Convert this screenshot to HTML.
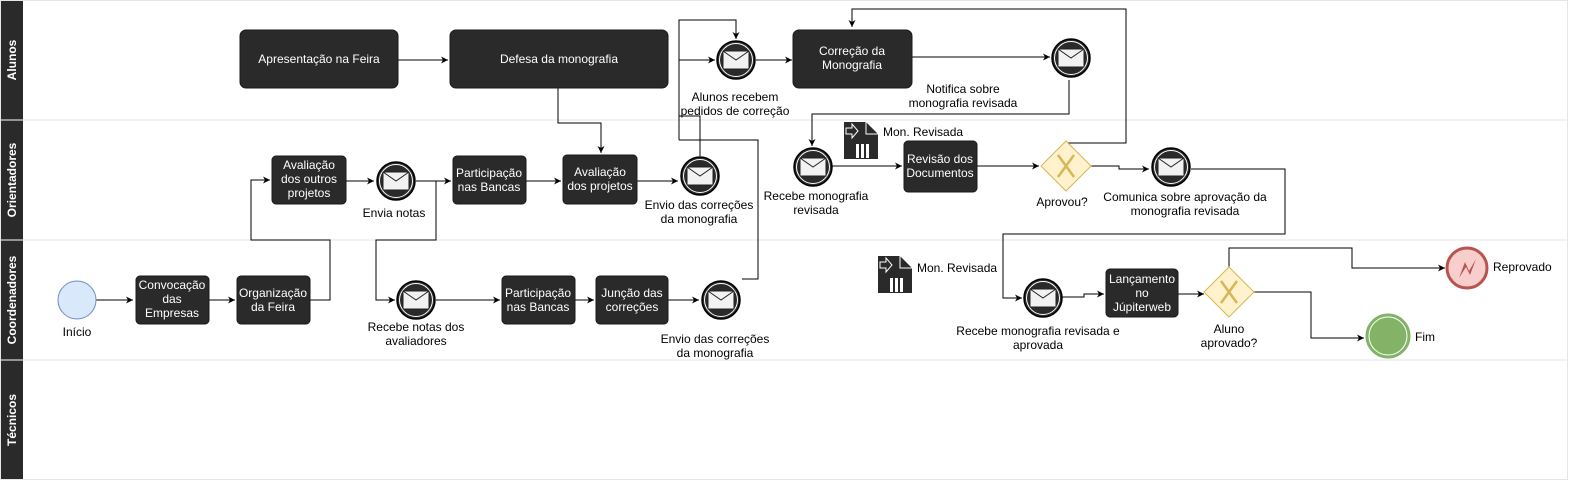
<!DOCTYPE html>
<html><head><meta charset="utf-8"><style>
html,body{margin:0;padding:0;background:#fff;}
svg{display:block;font-family:"Liberation Sans",sans-serif;}
.t{fill:#fff;font-size:12px;text-anchor:middle;}
.l{fill:#000;font-size:12px;text-anchor:middle;}
.e{fill:none;stroke:#000;stroke-width:1;}
</style></head><body>
<svg width="1571" height="482" viewBox="0 0 1571 482" xmlns="http://www.w3.org/2000/svg">
<defs>
<marker id="a" markerWidth="8" markerHeight="8" refX="7" refY="4" orient="auto" markerUnits="userSpaceOnUse"><path d="M0,0.5 L7,4 L0,7.5 L2,4 Z" fill="#000"/></marker>
<g id="msg">
<circle r="19" fill="#2a2a2a" stroke="#000" stroke-width="1.5"/>
<circle r="16.5" fill="none" stroke="#fff" stroke-width="1"/>
<rect x="-13" y="-9" width="26" height="18" fill="#f2f2f2" stroke="#222"/>
<path d="M-13,-9 L0,0 L13,-9" fill="none" stroke="#222"/>
</g>
<g id="doc">
<path d="M0,0 H22 L34,12 V37 H0 Z" fill="#2a2a2a"/>
<path d="M22,0 V12 H34" fill="none" stroke="#fff" stroke-width="1"/>
<path d="M2,6 H8 V2 L14,9 L8,16 V12 H2 Z" fill="none" stroke="#fff" stroke-width="1"/>
<rect x="12" y="22" width="3" height="14" fill="#fff"/><rect x="17" y="22" width="3" height="14" fill="#fff"/><rect x="22" y="22" width="3" height="14" fill="#fff"/>
</g>
<g id="gw">
<path d="M0,-25 L25,0 L0,25 L-25,0 Z" fill="#fff2cc" stroke="#d6b656"/>
<path d="M-8,-11 L8,11 M8,-11 L-8,11" stroke="#d6b656" stroke-width="2.5"/>
</g>
</defs>
<rect x="0.5" y="0.5" width="1567" height="479" fill="#fff" stroke="#e6e6e6"/>
<line x1="23" y1="120" x2="1567" y2="120" stroke="#e6e6e6"/>
<line x1="23" y1="240" x2="1567" y2="240" stroke="#e6e6e6"/>
<line x1="23" y1="360" x2="1567" y2="360" stroke="#e6e6e6"/>
<rect x="1" y="1" width="22" height="478" fill="#2a2a2a"/>
<line x1="1" y1="120" x2="23" y2="120" stroke="#fff"/>
<line x1="1" y1="240" x2="23" y2="240" stroke="#fff"/>
<line x1="1" y1="360" x2="23" y2="360" stroke="#fff"/>
<g fill="#fff" font-size="12" font-weight="bold" text-anchor="middle">
<text transform="translate(16,60) rotate(-90)">Alunos</text>
<text transform="translate(16,180) rotate(-90)">Orientadores</text>
<text transform="translate(16,300) rotate(-90)">Coordenadores</text>
<text transform="translate(16,420) rotate(-90)">Técnicos</text>
</g>

<g class="e">
<path d="M398,60 H448" marker-end="url(#a)"/>
<path d="M558,88 V123 H601 V153" marker-end="url(#a)"/>
<path d="M679,60 H715" marker-end="url(#a)"/>
<path d="M679,140 V20 H736 V39" marker-end="url(#a)"/>
<path d="M756,60 H792" marker-end="url(#a)"/>
<path d="M912,57 H1050" marker-end="url(#a)"/>
<path d="M1069,80 V114 H812 V146" marker-end="url(#a)"/>
<path d="M700,156 V116 H679"/>
<path d="M679,140 H758 V279 H742"/>
<path d="M346,181 H374" marker-end="url(#a)"/>
<path d="M416,181 H451" marker-end="url(#a)"/>
<path d="M526,181 H561" marker-end="url(#a)"/>
<path d="M637,181 H678" marker-end="url(#a)"/>
<path d="M832,166 H902" marker-end="url(#a)"/>
<path d="M977,166 H1039" marker-end="url(#a)"/>
<path d="M1066,143 H1126 V9 H852 V27" marker-end="url(#a)"/>
<path d="M1091,166 H1119 V169 H1149" marker-end="url(#a)"/>
<path d="M1191,169 H1285 V234 H1003 V298 H1022" marker-end="url(#a)"/>
<path d="M96,300 H133" marker-end="url(#a)"/>
<path d="M209,300 H235" marker-end="url(#a)"/>
<path d="M310,300 H330 V240 H251 V180 H270" marker-end="url(#a)"/>
<path d="M436,181 V240 H376 V300 H395" marker-end="url(#a)"/>
<path d="M436,300 H500" marker-end="url(#a)"/>
<path d="M575,300 H594" marker-end="url(#a)"/>
<path d="M668,300 H699" marker-end="url(#a)"/>
<path d="M1062,297 H1084 V294 H1104" marker-end="url(#a)"/>
<path d="M1178,294 H1204" marker-end="url(#a)"/>
<path d="M1229,268 V248 H1352 V268 H1445" marker-end="url(#a)"/>
<path d="M1254,292 H1311 V338 H1364" marker-end="url(#a)"/>
</g>

<g fill="#2a2a2a" stroke="#1a1a1a">
<rect x="240" y="30" width="158" height="58" rx="6"/>
<rect x="450" y="30" width="218" height="58" rx="6"/>
<rect x="793" y="30" width="119" height="58" rx="6"/>
<rect x="272" y="156" width="74" height="48" rx="4"/>
<rect x="453" y="156" width="73" height="48" rx="4"/>
<rect x="563" y="155" width="74" height="49" rx="4"/>
<rect x="904" y="141" width="73" height="51" rx="4"/>
<rect x="136" y="276" width="73" height="48" rx="4"/>
<rect x="237" y="276" width="73" height="48" rx="4"/>
<rect x="502" y="276" width="73" height="48" rx="4"/>
<rect x="596" y="276" width="72" height="48" rx="4"/>
<rect x="1106" y="269" width="72" height="48" rx="4"/>
</g>
<g class="t">
<text x="319" y="63">Apresentação na Feira</text>
<text x="559" y="63">Defesa da monografia</text>
<text x="852" y="55">Correção da</text><text x="852" y="69">Monografia</text>
<text x="309" y="169">Avaliação</text><text x="309" y="183">dos outros</text><text x="309" y="197">projetos</text>
<text x="489" y="177">Participação</text><text x="489" y="191">nas Bancas</text>
<text x="600" y="176">Avaliação</text><text x="600" y="190">dos projetos</text>
<text x="940" y="163">Revisão dos</text><text x="940" y="177">Documentos</text>
<text x="172" y="289">Convocação</text><text x="172" y="303">das</text><text x="172" y="317">Empresas</text>
<text x="273" y="297">Organização</text><text x="273" y="311">da Feira</text>
<text x="538" y="297">Participação</text><text x="538" y="311">nas Bancas</text>
<text x="632" y="297">Junção das</text><text x="632" y="311">correções</text>
<text x="1142" y="283">Lançamento</text><text x="1142" y="297">no</text><text x="1142" y="311">Júpiterweb</text>
</g>

<use href="#msg" x="736" y="60"/>
<use href="#msg" x="1071" y="58"/>
<use href="#msg" x="396" y="181"/>
<use href="#msg" x="700" y="176"/>
<use href="#msg" x="813" y="167"/>
<use href="#msg" x="1171" y="167"/>
<use href="#msg" x="416" y="300"/>
<use href="#msg" x="721" y="300"/>
<use href="#msg" x="1043" y="298"/>
<use href="#doc" x="844" y="122"/>
<use href="#doc" x="878" y="256"/>
<use href="#gw" x="1066" y="166"/>
<use href="#gw" x="1229" y="292"/>
<circle cx="77" cy="300" r="19" fill="#dae8fc" stroke="#6c8ebf"/>
<circle cx="1467" cy="268" r="20" fill="#f8cecc" stroke="#b85450" stroke-width="3"/>
<path d="M1459,278 L1465,262 L1469,271 L1476,259 L1470,275 L1466,267 Z" fill="#b85450"/>
<circle cx="1388" cy="336" r="22" fill="#82b366" stroke="#82b366"/>
<circle cx="1388" cy="336" r="19" fill="#82b366" stroke="#fff" stroke-width="1"/>

<g class="l">
<text x="735" y="101">Alunos recebem</text><text x="735" y="115">pedidos de correção</text>
<text x="963" y="93">Notifica sobre</text><text x="963" y="107">monografia revisada</text>
<text x="394" y="217">Envia notas</text>
<text x="699" y="209">Envio das correções</text><text x="699" y="223">da monografia</text>
<text x="816" y="200">Recebe monografia</text><text x="816" y="214">revisada</text>
<text x="1062" y="206">Aprovou?</text>
<text x="1185" y="201">Comunica sobre aprovação da</text><text x="1185" y="215">monografia revisada</text>
<text x="77" y="336">Início</text>
<text x="416" y="331">Recebe notas dos</text><text x="416" y="345">avaliadores</text>
<text x="715" y="343">Envio das correções</text><text x="715" y="357">da monografia</text>
<text x="1038" y="335">Recebe monografia revisada e</text><text x="1038" y="349">aprovada</text>
<text x="1229" y="333">Aluno</text><text x="1229" y="347">aprovado?</text>
</g>
<g fill="#000" font-size="12">
<text x="883" y="136">Mon. Revisada</text>
<text x="917" y="272">Mon. Revisada</text>
<text x="1493" y="271">Reprovado</text>
<text x="1415" y="341">Fim</text>
</g>
</svg>
</body></html>
